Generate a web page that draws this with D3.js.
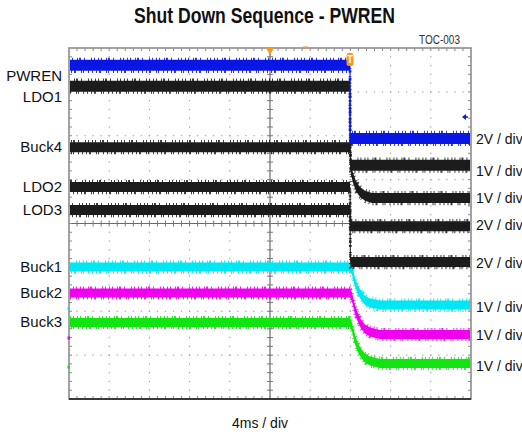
<!DOCTYPE html>
<html>
<head>
<meta charset="utf-8">
<script src="https://cdn.jsdelivr.net/npm/d3@7/dist/d3.min.js"></script>
<style>
  html, body { margin: 0; padding: 0; background: #fff; }
  svg { display: block; }
  text { font-family: "Liberation Sans", Arial, sans-serif; }
</style>
</head>
<body>
<svg id="chart" width="522" height="434"></svg>
<script>
// ---------------- DATA ----------------
const titleText = "Shut Down Sequence - PWREN";
const tocText = "TOC-003";
const timeLabel = "4ms / div";
const channelNames = ["PWREN", "LDO1", "Buck4", "LDO2", "LOD3", "Buck1", "Buck2", "Buck3"];
const voltsPerDiv = [2, 1, 1, 2, 2, 1, 1, 1];
const scaleLabels = ["2V / div", "1V / div", "1V / div", "2V / div", "2V / div", "1V / div", "1V / div", "1V / div"];
// channel offset (ground level) in divisions from screen centre
const groundDiv = [1.94, 1.33, 0.58, -0.06, -0.88, -1.86, -2.53, -3.19];
// waveforms: [time ms (trigger = 0), volts]
const pwrenWave = [[-20, 3.33], [7.96, 3.33], [7.96, 0], [20, 0]];
const ldo1Wave  = [[-20, 1.80], [7.96, 1.80], [8.0, 0], [20, 0]];
const buck4Wave = [[-20, 1.16], [7.96, 1.16], [8.06, 0.64], [8.26, 0.46], [8.56, 0.27], [8.96, 0.14], [9.45, 0.05], [10.15, 0], [20, 0]];
const ldo2Wave  = [[-20, 1.78], [7.96, 1.78], [8.0, 0], [20, 0]];
const lod3Wave  = [[-20, 2.37], [7.96, 2.37], [8.0, 0], [20, 0]];
const buck1Wave = [[-20, 0.866], [7.96, 0.866], [8.16, 0.80], [8.46, 0.52], [8.76, 0.34], [9.05, 0.23], [9.45, 0.11], [9.95, 0.05], [10.95, 0], [20, 0]];
const buck2Wave = [[-20, 0.946], [7.96, 0.946], [8.16, 0.855], [8.46, 0.56], [8.76, 0.38], [9.05, 0.24], [9.45, 0.125], [9.95, 0.057], [10.95, 0], [20, 0]];
const buck3Wave = [[-20, 0.934], [7.96, 0.934], [8.16, 0.83], [8.46, 0.54], [8.76, 0.35], [9.05, 0.24], [9.45, 0.125], [9.95, 0.057], [10.95, 0], [20, 0]];
const waves = [pwrenWave, ldo1Wave, buck4Wave, ldo2Wave, lod3Wave, buck1Wave, buck2Wave, buck3Wave];
const timeDomain = [-20, 20];   // 10 div x 4 ms
const divDomain = [-4, 4];      // 8 vertical divisions
const triggerTime = 0;
const edgeTime = 7.96;

// ---------------- STYLE / LAYOUT ----------------
const traceColors = ["#0a16e4", "#1c1c1c", "#1c1c1c", "#1c1c1c", "#1c1c1c", "#00e6f2", "#ef00ef", "#12e412"];
const bandHeight = [11, 11, 10, 10, 10, 9, 9, 9];
const leftLabelNudge = [11, 11, 0, 0, 0, 0, 0, 0];
const rightLabelNudge = [1, 6, 0, -1, 1, 2, 0, 3];
const frame = { left: 69, right: 471, top: 48, bottom: 399 };

const svg = d3.select("#chart");
const x = d3.scaleLinear().domain(timeDomain).range([frame.left, frame.right]);
const y = d3.scaleLinear().domain(divDomain).range([frame.bottom, frame.top]);
const xDiv = (frame.right - frame.left) / 10;
const yDiv = (frame.bottom - frame.top) / 8;

// Title
svg.append("text").attr("x", 264.5).attr("y", 23).attr("text-anchor", "middle")
  .attr("font-size", 21.5).attr("font-weight", "bold").attr("fill", "#111")
  .attr("textLength", 261).attr("lengthAdjust", "spacingAndGlyphs").text(titleText);
svg.append("text").attr("x", 460).attr("y", 44).attr("text-anchor", "end")
  .attr("font-size", 12.5).attr("fill", "#333").attr("textLength", 41).attr("lengthAdjust", "spacingAndGlyphs").text(tocText);

// Grid
const grid = svg.append("g");
const xMajors = d3.range(1, 10).map(i => frame.left + i * xDiv);
const yMajors = d3.range(1, 8).map(i => frame.top + i * yDiv);
const xMinors = d3.range(1, 50).map(i => frame.left + i * xDiv / 5);
const yMinors = d3.range(1, 40).map(i => frame.top + i * yDiv / 5);
// dotted lines
xMajors.forEach((gx, i) => {
  if (i === 4) return;
  yMinors.forEach(gy => grid.append("rect").attr("x", gx - 0.5).attr("y", gy - 0.7).attr("width", 1).attr("height", 1.4).attr("fill", "#9a9a9a"));
});
yMajors.forEach((gy, i) => {
  if (i === 3) return;
  xMinors.forEach(gx => grid.append("rect").attr("x", gx - 0.7).attr("y", gy - 0.5).attr("width", 1.4).attr("height", 1).attr("fill", "#9a9a9a"));
});
// centre cross
const cx = x(0), cy = y(0);
grid.append("line").attr("x1", frame.left).attr("x2", frame.right).attr("y1", cy).attr("y2", cy).attr("stroke", "#6a6a6a").attr("stroke-width", 1.2);
grid.append("line").attr("x1", cx).attr("x2", cx).attr("y1", frame.top).attr("y2", frame.bottom).attr("stroke", "#6a6a6a").attr("stroke-width", 1.2);
xMinors.forEach(gx => grid.append("line").attr("x1", gx).attr("x2", gx).attr("y1", cy - 3).attr("y2", cy + 3).attr("stroke", "#777").attr("stroke-width", 1));
yMinors.forEach(gy => grid.append("line").attr("x1", cx - 3).attr("x2", cx + 3).attr("y1", gy).attr("y2", gy).attr("stroke", "#777").attr("stroke-width", 1));
// edge ticks
xMinors.forEach(gx => {
  grid.append("line").attr("x1", gx).attr("x2", gx).attr("y1", frame.top).attr("y2", frame.top + 3).attr("stroke", "#888");
  grid.append("line").attr("x1", gx).attr("x2", gx).attr("y1", frame.bottom - 3).attr("y2", frame.bottom).attr("stroke", "#888");
});
yMinors.forEach(gy => {
  grid.append("line").attr("x1", frame.left).attr("x2", frame.left + 3).attr("y1", gy).attr("y2", gy).attr("stroke", "#888");
  grid.append("line").attr("x1", frame.right - 3).attr("x2", frame.right).attr("y1", gy).attr("y2", gy).attr("stroke", "#888");
});
// frame
grid.append("rect").attr("x", frame.left).attr("y", frame.top).attr("width", frame.right - frame.left).attr("height", frame.bottom - frame.top)
  .attr("fill", "none").attr("stroke", "#8c8c8c").attr("stroke-width", 1.6);
grid.append("line").attr("x1", frame.left).attr("x2", frame.right).attr("y1", frame.bottom).attr("y2", frame.bottom).attr("stroke", "#3a3a3a").attr("stroke-width", 2);

// clip
svg.append("clipPath").attr("id", "plotclip").append("rect")
  .attr("x", frame.left + 1).attr("y", frame.top + 1).attr("width", frame.right - frame.left - 2).attr("height", frame.bottom - frame.top - 2);
const traces = svg.append("g").attr("clip-path", "url(#plotclip)");

// Traces (draw bottom channels first so upper overlay like the scope)
const drawOrder = [7, 6, 5, 4, 3, 2, 1, 0];
drawOrder.forEach(ci => {
  const pts = waves[ci];
  const yv = d => y(groundDiv[ci] + d[1] / voltsPerDiv[ci]);
  const h = bandHeight[ci];
  const col = traceColors[ci];
  const area = d3.area().x(d => x(d[0])).y0(d => yv(d) - h / 2).y1(d => yv(d) + h / 2);
  const line = d3.line().x(d => x(d[0])).y(d => yv(d));
  const edgeTop = d3.line().x(d => x(d[0])).y(d => yv(d) - h / 2 - 0.8);
  const edgeBot = d3.line().x(d => x(d[0])).y(d => yv(d) + h / 2 + 0.8);
  traces.append("path").attr("d", area(pts)).attr("fill", col);
  traces.append("path").attr("d", line(pts)).attr("fill", "none").attr("stroke", col).attr("stroke-width", 1);
  traces.append("path").attr("d", edgeTop(pts)).attr("fill", "none").attr("stroke", col).attr("stroke-width", 2.6)
    .attr("stroke-dasharray", "1 2 1 4 1 1 2 3 1 6 1 2 1 3").attr("stroke-dashoffset", ci * 3).attr("opacity", 0.85);
  traces.append("path").attr("d", edgeBot(pts)).attr("fill", "none").attr("stroke", col).attr("stroke-width", 2.6)
    .attr("stroke-dasharray", "1 3 1 2 2 5 1 1 1 4 1 3").attr("stroke-dashoffset", ci * 5 + 2).attr("opacity", 0.85);
});

// channel ground markers on left edge (coloured channels)
[5, 6, 7].forEach(ci => {
  svg.append("rect").attr("x", frame.left - 1.5).attr("y", y(groundDiv[ci]) + 2).attr("width", 2.5).attr("height", 3).attr("fill", traceColors[ci]);
});

// Trigger markers
const orange = "#f5961e";
const tx = x(triggerTime);
svg.append("path").attr("d", `M${tx - 4},${frame.top} L${tx + 4},${frame.top} L${tx},${frame.top + 7} Z`).attr("fill", orange);
svg.append("rect").attr("x", 303).attr("y", frame.top - 1.5).attr("width", 5).attr("height", 2).attr("fill", orange);
const ex = x(edgeTime);
svg.append("rect").attr("x", ex - 3.5).attr("y", 53).attr("width", 7).attr("height", 13).attr("rx", 2.5).attr("fill", orange);
svg.append("text").attr("x", ex).attr("y", 63).attr("text-anchor", "middle").attr("font-size", 10).attr("font-weight", "bold").attr("fill", "#fff").text("T");
// blue channel arrow on right
const ay = 117;
svg.append("path").attr("d", `M${frame.right - 9},${ay} L${frame.right - 5},${ay - 3} L${frame.right - 5},${ay + 3} Z`).attr("fill", traceColors[0]);
svg.append("line").attr("x1", frame.right - 6).attr("x2", frame.right - 3).attr("y1", ay).attr("y2", ay).attr("stroke", traceColors[0]).attr("stroke-width", 1.5);

// Left labels
channelNames.forEach((name, ci) => {
  const v0 = waves[ci][0][1];
  svg.append("text").attr("x", 62).attr("y", y(groundDiv[ci] + v0 / voltsPerDiv[ci]) + 5 + leftLabelNudge[ci])
    .attr("text-anchor", "end").attr("font-size", 15).attr("fill", "#111").text(name);
});
// Right labels
scaleLabels.forEach((lab, ci) => {
  svg.append("text").attr("x", 476).attr("y", y(groundDiv[ci]) + 5 + rightLabelNudge[ci])
    .attr("font-size", 14).attr("fill", "#111").text(lab);
});
// Bottom label
svg.append("text").attr("x", 260).attr("y", 428).attr("text-anchor", "middle").attr("font-size", 14).attr("fill", "#111").text(timeLabel);
</script>
</body>
</html>
